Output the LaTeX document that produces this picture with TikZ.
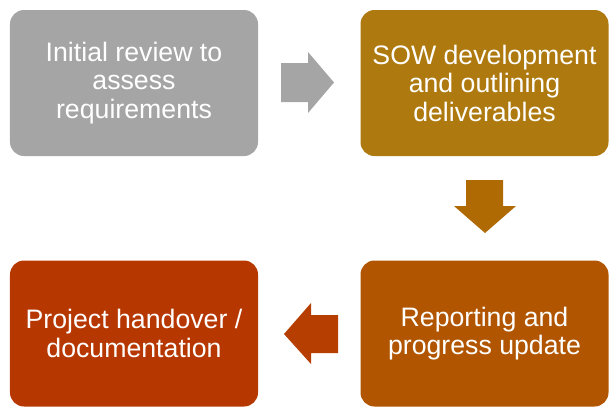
\documentclass[tikz,border=0pt]{standalone}
\usepackage{fontspec}
\setmainfont{Liberation Sans}
\definecolor{cgray}{HTML}{A5A5A5}
\definecolor{cgold}{HTML}{AE790E}
\definecolor{cgoldarrow}{HTML}{B06A04}
\definecolor{corange}{HTML}{B15500}
\definecolor{credarrow}{HTML}{B53E00}
\definecolor{cred}{HTML}{B73700}
\begin{document}
\begin{tikzpicture}[x=1bp,y=-1bp,
  stepbox/.style={rounded corners=14bp, minimum width=248bp, minimum height=146bp,
    text=white, align=center, inner sep=0pt,
    font=\fontsize{26.7bp}{28.5bp}\selectfont},
  blockarrow/.style={draw=none}]
\useasboundingbox (0,0) rectangle (610,408);
\node[stepbox, fill=cgray] (s1) at (134,83) {Initial review to\\assess\\requirements};
\node[stepbox, fill=cgold] (s2) at (484.5,83) {SOW development\\and outlining\\deliverables};
\node[stepbox, fill=corange] (s4) at (484.5,333.5) {Reporting and\\progress update};
\node[stepbox, fill=cred] (s3) at (134,333.5) {Project handover /\\documentation};
% right arrow
\fill[cgray] (281,63) -- (308,63) -- (308,52) -- (334,82.5) -- (308,113) -- (308,102) -- (281,102) -- cycle;
% down arrow
\fill[cgoldarrow] (466,180) -- (503,180) -- (503,206) -- (516,206) -- (485,233) -- (454,206) -- (466,206) -- cycle;
% left arrow
\fill[credarrow] (338,315) -- (311,315) -- (311,303) -- (284,334) -- (311,364) -- (311,353) -- (338,353) -- cycle;
\end{tikzpicture}
\end{document}
